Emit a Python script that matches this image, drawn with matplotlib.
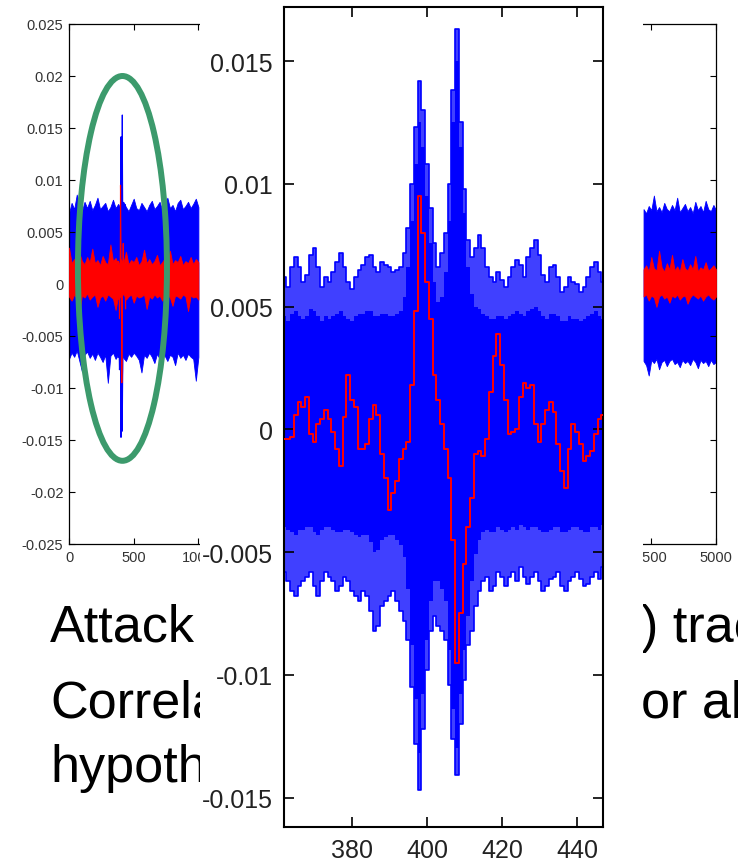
import numpy as np
import matplotlib.pyplot as plt
from matplotlib.patches import Ellipse, Rectangle
from matplotlib.transforms import Bbox, TransformedBbox

plt.rcParams['font.family'] = ['Liberation Sans', 'DejaVu Sans']

# zoomed window: samples 362..447, all key hypotheses (blue) and correct key (red)
zoom_start = 362
zoom_blue_hi = [0.0062, 0.0058, 0.0066, 0.0070, 0.0066, 0.0060, 0.0063, 0.0071, 0.0074, 0.0066,
                0.0058, 0.0062, 0.0060, 0.0064, 0.0068, 0.0072, 0.0066, 0.0060, 0.0057, 0.0062,
                0.0065, 0.0067, 0.0070, 0.0071, 0.0066, 0.0064, 0.0068, 0.0067, 0.0066, 0.0064,
                0.0065, 0.0066, 0.0072, 0.0082, 0.0100, 0.0123, 0.0142, 0.0130, 0.0108, 0.0090,
                0.0076, 0.0066, 0.0072, 0.0080, 0.0100, 0.0138, 0.0163, 0.0125, 0.0098, 0.0077,
                0.0070, 0.0074, 0.0079, 0.0074, 0.0066, 0.0062, 0.0060, 0.0064, 0.0061, 0.0058,
                0.0062, 0.0066, 0.0069, 0.0067, 0.0062, 0.0070, 0.0074, 0.0077, 0.0071, 0.0063,
                0.0060, 0.0066, 0.0067, 0.0062, 0.0056, 0.0058, 0.0062, 0.0060, 0.0059, 0.0056,
                0.0058, 0.0062, 0.0066, 0.0068, 0.0064, 0.0060]
zoom_blue_lo = [-0.0058, -0.0062, -0.0066, -0.0068, -0.0064, -0.0062, -0.0060, -0.0058, -0.0064, -0.0068,
                -0.0062, -0.0058, -0.0060, -0.0062, -0.0066, -0.0064, -0.0060, -0.0062, -0.0066, -0.0068,
                -0.0070, -0.0066, -0.0068, -0.0074, -0.0082, -0.0080, -0.0072, -0.0070, -0.0068, -0.0066,
                -0.0070, -0.0074, -0.0078, -0.0086, -0.0105, -0.0128, -0.0147, -0.0122, -0.0098, -0.0082,
                -0.0076, -0.0080, -0.0082, -0.0086, -0.0104, -0.0126, -0.0141, -0.0120, -0.0102, -0.0088,
                -0.0082, -0.0072, -0.0066, -0.0062, -0.0060, -0.0066, -0.0064, -0.0058, -0.0060, -0.0064,
                -0.0060, -0.0058, -0.0062, -0.0056, -0.0060, -0.0063, -0.0060, -0.0058, -0.0062, -0.0066,
                -0.0064, -0.0061, -0.0060, -0.0058, -0.0064, -0.0066, -0.0062, -0.0060, -0.0058, -0.0061,
                -0.0064, -0.0063, -0.0060, -0.0058, -0.0061, -0.0056]
# where the hypotheses are packed solid
zoom_core_hi = [0.0046, 0.0044, 0.0047, 0.0048, 0.0046, 0.0045, 0.0046, 0.0049, 0.0048, 0.0046,
                0.0044, 0.0046, 0.0045, 0.0046, 0.0047, 0.0048, 0.0046, 0.0045, 0.0044, 0.0046,
                0.0047, 0.0047, 0.0048, 0.0048, 0.0046, 0.0046, 0.0047, 0.0047, 0.0046, 0.0046,
                0.0047, 0.0048, 0.0054, 0.0066, 0.0085, 0.0108, 0.0125, 0.0115, 0.0095, 0.0076,
                0.0060, 0.0052, 0.0054, 0.0064, 0.0085, 0.0125, 0.0150, 0.0115, 0.0088, 0.0066,
                0.0055, 0.0050, 0.0049, 0.0047, 0.0046, 0.0045, 0.0045, 0.0046, 0.0046, 0.0045,
                0.0046, 0.0047, 0.0048, 0.0047, 0.0046, 0.0048, 0.0049, 0.0050, 0.0048, 0.0046,
                0.0045, 0.0047, 0.0047, 0.0046, 0.0044, 0.0044, 0.0046, 0.0045, 0.0045, 0.0044,
                0.0045, 0.0046, 0.0047, 0.0048, 0.0046, 0.0045]
zoom_core_lo = [-0.0040, -0.0041, -0.0042, -0.0043, -0.0041, -0.0041, -0.0040, -0.0040, -0.0042, -0.0043,
                -0.0041, -0.0040, -0.0040, -0.0041, -0.0042, -0.0042, -0.0041, -0.0041, -0.0042, -0.0043,
                -0.0044, -0.0043, -0.0043, -0.0046, -0.0050, -0.0049, -0.0045, -0.0044, -0.0043, -0.0043,
                -0.0045, -0.0047, -0.0052, -0.0065, -0.0088, -0.0110, -0.0132, -0.0108, -0.0086, -0.0070,
                -0.0062, -0.0062, -0.0065, -0.0070, -0.0090, -0.0114, -0.0130, -0.0108, -0.0090, -0.0076,
                -0.0062, -0.0051, -0.0045, -0.0042, -0.0041, -0.0042, -0.0042, -0.0040, -0.0041, -0.0042,
                -0.0041, -0.0040, -0.0041, -0.0039, -0.0040, -0.0041, -0.0040, -0.0040, -0.0041, -0.0042,
                -0.0042, -0.0041, -0.0040, -0.0040, -0.0042, -0.0042, -0.0041, -0.0040, -0.0040, -0.0041,
                -0.0042, -0.0042, -0.0040, -0.0040, -0.0041, -0.0039]
zoom_red = [-0.0004, -0.0004, -0.0003, 0.0006, 0.0011, 0.0009, 0.0013, -0.0002, -0.0005, 0.0002,
            0.0004, 0.0008, 0.0004, -0.0001, -0.0008, -0.0015, 0.0005, 0.0022, 0.0012, 0.0009,
            -0.0008, -0.0008, -0.0006, 0.0004, 0.0010, 0.0006, -0.0010, -0.0020, -0.0033, -0.0026,
            -0.0021, -0.0012, -0.0008, -0.0005, 0.0018, 0.0048, 0.0095, 0.0080, 0.0060, 0.0045,
            0.0022, 0.0012, 0.0002, -0.0008, -0.0020, -0.0045, -0.0095, -0.0075, -0.0055, -0.0040,
            -0.0028, -0.0010, -0.0009, -0.0011, -0.0004, 0.0015, 0.0030, 0.0039, 0.0026, 0.0012,
            -0.0002, -0.0001, 0.0000, 0.0013, 0.0019, 0.0017, 0.0018, 0.0002, -0.0005, 0.0002,
            0.0008, 0.0011, 0.0007, -0.0006, -0.0017, -0.0024, -0.0008, 0.0002, -0.0001, -0.0006,
            -0.0013, -0.0011, -0.0009, -0.0002, 0.0004, 0.0006]

# full-length traces, envelopes every 20 samples (visible parts only)
bg_step = 20
bg_left_blue_hi = [0.0068, 0.0078, 0.0072, 0.0086, 0.0074, 0.0070, 0.0079, 0.0073, 0.0080, 0.0071,
                   0.0076, 0.0083, 0.0072, 0.0075, 0.0078, 0.0070, 0.0074, 0.0081, 0.0073, 0.0077,
                   0.0072, 0.0079, 0.0074, 0.0070, 0.0076, 0.0082, 0.0073, 0.0071, 0.0078, 0.0074,
                   0.0070, 0.0076, 0.0080, 0.0072, 0.0075, 0.0079, 0.0071, 0.0074, 0.0083, 0.0073,
                   0.0076, 0.0070, 0.0078, 0.0081, 0.0072, 0.0075, 0.0079, 0.0073, 0.0077, 0.0082,
                   0.0074]
bg_left_blue_lo = [-0.0072, -0.0066, -0.0070, -0.0064, -0.0074, -0.0084, -0.0068, -0.0065, -0.0071, -0.0067,
                   -0.0073, -0.0066, -0.0070, -0.0075, -0.0068, -0.0095, -0.0069, -0.0066, -0.0072, -0.0068,
                   -0.0065, -0.0071, -0.0074, -0.0067, -0.0070, -0.0066, -0.0069, -0.0073, -0.0085, -0.0068,
                   -0.0071, -0.0066, -0.0070, -0.0076, -0.0067, -0.0072, -0.0065, -0.0069, -0.0074, -0.0068,
                   -0.0070, -0.0078, -0.0066, -0.0071, -0.0068, -0.0073, -0.0067, -0.0070, -0.0072, -0.0093,
                   -0.0070]
bg_left_red_hi = [0.0035, 0.0020, 0.0024, 0.0018, 0.0030, 0.0022, 0.0019, 0.0026, 0.0021, 0.0034,
                  0.0020, 0.0023, 0.0018, 0.0027, 0.0021, 0.0019, 0.0038, 0.0022, 0.0025, 0.0018,
                  0.0024, 0.0020, 0.0031, 0.0019, 0.0023, 0.0021, 0.0026, 0.0018, 0.0022, 0.0033,
                  0.0020, 0.0024, 0.0019, 0.0022, 0.0028, 0.0018, 0.0021, 0.0025, 0.0020, 0.0032,
                  0.0019, 0.0023, 0.0021, 0.0027, 0.0018, 0.0022, 0.0020, 0.0026, 0.0019, 0.0024,
                  0.0021]
bg_left_red_lo = [-0.0012, -0.0016, -0.0010, -0.0014, -0.0027, -0.0011, -0.0013, -0.0009, -0.0015, -0.0012,
                  -0.0010, -0.0022, -0.0013, -0.0011, -0.0016, -0.0010, -0.0012, -0.0014, -0.0025, -0.0011,
                  -0.0013, -0.0009, -0.0015, -0.0012, -0.0010, -0.0018, -0.0011, -0.0013, -0.0012, -0.0010,
                  -0.0024, -0.0012, -0.0014, -0.0010, -0.0013, -0.0011, -0.0016, -0.0012, -0.0010, -0.0013,
                  -0.0021, -0.0011, -0.0012, -0.0014, -0.0010, -0.0012, -0.0026, -0.0011, -0.0013, -0.0012,
                  -0.0015]
bg_right_start = 4440
bg_right_blue_hi = [0.0072, 0.0068, 0.0075, 0.0071, 0.0085, 0.0070, 0.0074, 0.0069, 0.0078, 0.0072,
                    0.0070, 0.0076, 0.0071, 0.0083, 0.0069, 0.0073, 0.0077, 0.0070, 0.0074, 0.0068,
                    0.0079, 0.0071, 0.0075, 0.0069, 0.0080, 0.0072, 0.0070, 0.0076, 0.0071]
bg_right_blue_lo = [-0.0074, -0.0078, -0.0088, -0.0073, -0.0076, -0.0072, -0.0082, -0.0075, -0.0073, -0.0079,
                    -0.0074, -0.0072, -0.0077, -0.0075, -0.0080, -0.0073, -0.0076, -0.0074, -0.0078, -0.0072,
                    -0.0075, -0.0081, -0.0073, -0.0076, -0.0074, -0.0079, -0.0073, -0.0077, -0.0075]
bg_right_red_hi = [0.0014, 0.0018, 0.0012, 0.0026, 0.0015, 0.0013, 0.0032, 0.0016, 0.0012, 0.0020,
                   0.0014, 0.0028, 0.0013, 0.0017, 0.0012, 0.0024, 0.0015, 0.0013, 0.0019, 0.0014,
                   0.0027, 0.0012, 0.0016, 0.0014, 0.0021, 0.0013, 0.0015, 0.0018, 0.0014]
bg_right_red_lo = [-0.0012, -0.0010, -0.0016, -0.0011, -0.0013, -0.0022, -0.0012, -0.0010, -0.0014, -0.0012,
                   -0.0018, -0.0011, -0.0013, -0.0010, -0.0015, -0.0012, -0.0011, -0.0019, -0.0013, -0.0010,
                   -0.0012, -0.0014, -0.0011, -0.0016, -0.0012, -0.0010, -0.0013, -0.0015, -0.0012]

bg_yticks = [-0.025, -0.02, -0.015, -0.01, -0.005, 0, 0.005, 0.01, 0.015, 0.02, 0.025]
bg_ytick_labels = ['-0.025', '-0.02', '-0.015', '-0.01', '-0.005', '0',
                   '0.005', '0.01', '0.015', '0.02', '0.025']
bg_xticks = [0, 500, 1000, 1500, 2000, 2500, 3000, 3500, 4000, 4500, 5000]
# labels 1500..4000 sit behind the zoom picture
bg_xtick_labels = ['0', '500', '1000', '', '', '', '', '', '', '4500', '5000']
zoom_yticks = [-0.015, -0.01, -0.005, 0, 0.005, 0.01, 0.015]
zoom_ytick_labels = ['-0.015', '-0.01', '-0.005', '0', '0.005', '0.01', '0.015']
zoom_xticks = [380, 400, 420, 440]

text_left = ['Attack', 'Correlation', 'hypotheses']
text_right = [') traces', 'or all', '']

BLUE = '#0000ff'
RED = '#ff0000'

zoom_x = np.arange(zoom_start, zoom_start + len(zoom_red))
left_x = np.arange(len(bg_left_blue_hi)) * bg_step
right_x = bg_right_start + np.arange(len(bg_right_blue_hi)) * bg_step

fig = plt.figure(figsize=(7.38, 8.62), dpi=100)

# ---- background: full traces with the highlighted peak ----
ax = fig.add_axes([69 / 738, 1 - 545 / 862, 647 / 738, 520 / 862], zorder=0)
for xs, bhi, blo, rhi, rlo in [(left_x, bg_left_blue_hi, bg_left_blue_lo, bg_left_red_hi, bg_left_red_lo),
                               (right_x, bg_right_blue_hi, bg_right_blue_lo, bg_right_red_hi, bg_right_red_lo)]:
    ax.fill_between(xs, blo, bhi, color=BLUE, lw=0.6)
    ax.fill_between(xs, rlo, rhi, color=RED, lw=0.6, zorder=3)
ax.fill_between(zoom_x, zoom_blue_lo, zoom_blue_hi, color=BLUE, lw=0.8, zorder=2)
ax.plot(zoom_x, zoom_red, color=RED, lw=0.8, zorder=4)
ax.add_patch(Ellipse((413, 0.0015), 688, 0.037, fill=False,
                     edgecolor='#3c9a6c', lw=4.3, zorder=6))
ax.set_xlim(0, 5000)
ax.set_ylim(-0.025, 0.025)
ax.set_yticks(bg_yticks)
ax.set_yticklabels(bg_ytick_labels)
ax.set_xticks(bg_xticks)
ax.set_xticklabels(bg_xtick_labels)
ax.tick_params(direction='in', top=True, right=True, length=4, width=0.8,
               labelsize=10.5, labelcolor='#333333', pad=4)
for s in ax.spines.values():
    s.set_linewidth(0.9)

# slide text under the plot, only the parts beside the zoom picture show
left_clip = TransformedBbox(Bbox([[0, 0], [200 / 738, 1]]), fig.transFigure)
right_clip = TransformedBbox(Bbox([[643 / 738, 0], [1, 1]]), fig.transFigure)
for i, (tl, tr) in enumerate(zip(text_left, text_right)):
    yb = [642, 718, 782][i]
    t = fig.text(50 / 738, 1 - yb / 862, tl, fontsize=37.5, va='baseline', zorder=0.5)
    t.set_clip_box(left_clip)
    t.set_clip_on(True)
    if tr:
        t = fig.text(641 / 738, 1 - yb / 862, tr, fontsize=37.5, va='baseline', zorder=0.5)
        t.set_clip_box(right_clip)
        t.set_clip_on(True)

# white picture area of the zoom
fig.patches.append(Rectangle((200 / 738, 0), 443 / 738, 1, transform=fig.transFigure,
                             facecolor='white', edgecolor='none', zorder=1))

# ---- zoomed view ----
ax2 = fig.add_axes([284 / 738, 1 - 828 / 862, 319 / 738, 820 / 862], zorder=2)
ax2.fill_between(zoom_x, zoom_blue_lo, zoom_blue_hi, step='mid', color=BLUE, alpha=0.75, lw=0)
ax2.fill_between(zoom_x, zoom_core_lo, zoom_core_hi, step='mid', color=BLUE, lw=0)
ax2.step(zoom_x, zoom_blue_hi, where='mid', color=BLUE, lw=1.2)
ax2.step(zoom_x, zoom_blue_lo, where='mid', color=BLUE, lw=1.2)
ax2.step(zoom_x, zoom_red, where='mid', color=RED, lw=1.4, zorder=5)
ax2.set_xlim(361.9, 446.9)
ax2.set_ylim(-0.0162, 0.0172)
ax2.set_yticks(zoom_yticks)
ax2.set_yticklabels(zoom_ytick_labels)
ax2.set_xticks(zoom_xticks)
ax2.tick_params(direction='in', top=True, right=True, length=7, width=1.2,
                labelsize=18, labelcolor='#222222', pad=8)
for s in ax2.spines.values():
    s.set_linewidth(1.5)

fig.savefig('out.png', dpi=100)
